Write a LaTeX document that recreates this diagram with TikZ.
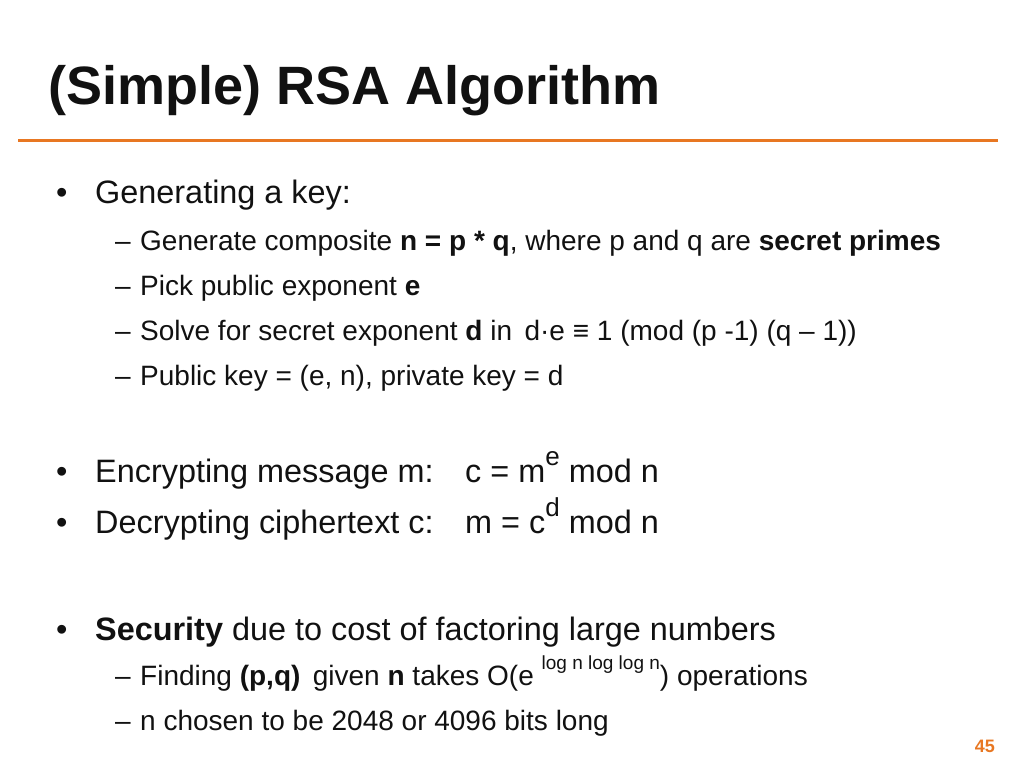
\documentclass[tikz,border=0pt]{standalone}
\usepackage{fontspec}
\setmainfont{Liberation Sans}
\usetikzlibrary{positioning}
\definecolor{slideorange}{HTML}{E87722}
\definecolor{textdark}{HTML}{111111}
\tikzset{
  main/.style={anchor=base west, inner sep=0pt, font=\fontsize{32.4}{38}\selectfont, color=textdark},
  sub/.style={anchor=base west, inner sep=0pt, font=\fontsize{28}{33}\selectfont, color=textdark},
}
\newcommand{\sups}[1]{\raisebox{0.5em}{\fontsize{26}{26}\selectfont #1}}
\newcommand{\supsmall}[1]{\raisebox{0.55em}{\fontsize{19}{19}\selectfont #1}}
\begin{document}
\begin{tikzpicture}[x=1pt,y=-1pt]
    \useasboundingbox (0,0) rectangle (1024,768);
    % Title
    \node[anchor=base west, inner sep=0pt, font=\fontsize{54}{60}\selectfont\bfseries, color=textdark] (title) at (48,104) {(Simple) RSA Algorithm};
    \draw[slideorange, line width=3pt] (18,140) -- (998,140);

    % Bullets
    \foreach \y in {203,482,533,640} {
        \node[main] at (56,\y) {•};
    }
    % Dashes
    \foreach \y in {250,295,340,385,685,730} {
        \node[sub] at (115,\y) {–};
    }

    % Generating a key
    \node[main] (gen) at (95,203) {Generating a key:};
    \node[sub] (comp) at (140,250) {Generate composite \textbf{n = p * q}, where p and q are \textbf{secret primes}};
    \node[sub] (pick) at (140,295) {Pick public exponent \textbf{e}};
    \node[sub] (solve) at (140,340) {Solve for secret exponent \textbf{d} in\, d·e ≡ 1 (mod (p -1) (q – 1))};
    \node[sub] (pub) at (140,385) {Public key = (e, n), private key = d};

    % Encrypt / decrypt
    \node[main] (enc) at (95,482) {Encrypting message m:};
    \node[main] (encf) at (465,482) {c = m\sups{e} mod n};
    \node[main] (dec) at (95,533) {Decrypting ciphertext c:};
    \node[main] (decf) at (465,533) {m = c\sups{d} mod n};

    % Security
    \node[main] (sec) at (95,640) {\textbf{Security} due to cost of factoring large numbers};
    \node[sub] (find) at (140,685) {Finding \textbf{(p,q)}\, given \textbf{n} takes O(e \supsmall{log n log log n}) operations};
    \node[sub] (bits) at (140,730) {n chosen to be 2048 or 4096 bits long};

    % Page number
    \node[anchor=base east, inner sep=0pt, font=\fontsize{18}{20}\selectfont\bfseries, color=slideorange] (page) at (995,752) {45};
\end{tikzpicture}
\end{document}
